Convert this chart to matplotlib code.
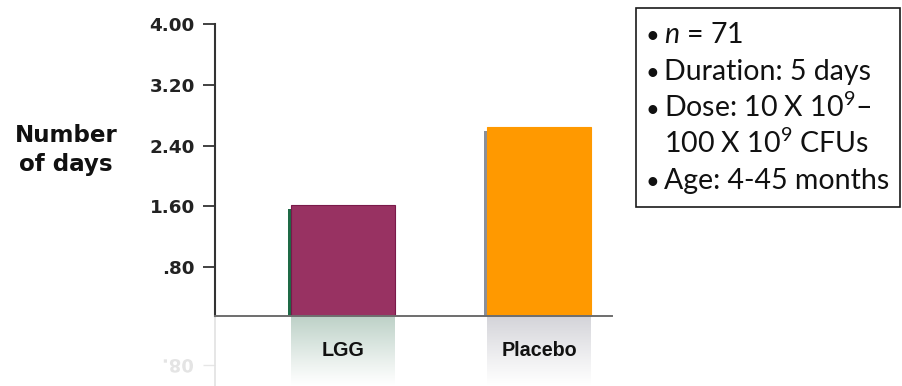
import numpy as np
import matplotlib
matplotlib.use("Agg")
import matplotlib.pyplot as plt
from matplotlib import patheffects
from matplotlib.patches import Rectangle, PathPatch
from matplotlib.textpath import TextPath
from matplotlib.font_manager import FontProperties
from matplotlib.transforms import Affine2D, IdentityTransform

# ---- data -------------------------------------------------------------
categories = ["LGG", "Placebo"]
days = [1.61, 2.64]
ytick_values = [0.80, 1.60, 2.40, 3.20, 4.00]
ytick_labels = [".80", "1.60", "2.40", "3.20", "4.00"]
box_lines = [r"$n$ = 71", "Duration: 5 days", r"Dose: 10 X 10$^{9}$–",
             r"100 X 10$^{9}$ CFUs", "Age: 4-45 months"]
box_bullets = [True, True, True, False, True]

# ---- styling ----------------------------------------------------------
bar_colors = ["#983262", "#FF9900"]
bar_edges = ["#7a1a4a", "#FF9900"]
shadow_colors = ["#1e6a46", "#8a8f99"]
reflect_colors = [(0.74, 0.82, 0.78), (0.83, 0.83, 0.85)]

plt.rcParams["mathtext.fontset"] = "custom"
plt.rcParams["mathtext.rm"] = "Lato"
plt.rcParams["mathtext.it"] = "Lato:italic"

W, H = 902, 386
fig = plt.figure(figsize=(W / 100, H / 100), dpi=100)

# pixel layout
ax_l, ax_r, ax_t, ax_b = 215, 612, 24.3, 316
px_per_unit = 60.6 / 0.8
ymax = 4.0
ymin = ymax - (ax_b - ax_t) / px_per_unit

x = np.arange(len(categories))
centers_px = [343, 539]
unit_px = centers_px[1] - centers_px[0]
xlo = -(centers_px[0] - ax_l) / unit_px
xhi = 1 + (ax_r - centers_px[1]) / unit_px
bar_w = 104 / unit_px

# ---- reflection strip under the baseline -------------------------------
refl_h = H - ax_b
axr = fig.add_axes([ax_l / W, 0, (ax_r - ax_l) / W, refl_h / H])
r_top = ymin + refl_h / px_per_unit
axr.patch.set_alpha(0)
for s in ["top", "right", "bottom"]:
    axr.spines[s].set_visible(False)
axr.spines["left"].set_color("#e2e2e2")
axr.spines["left"].set_linewidth(1.2)

# mirrored bars, drawn as thin slices that fade out away from the baseline
n = 70
for xi, v, c in zip(x, days, reflect_colors):
    depth = min(v, r_top) - ymin
    edges = ymin + np.linspace(0, depth, n + 1)
    alphas = np.linspace(1.0, 0.0, n) ** 1.1
    for y0, y1, a in zip(edges[:-1], edges[1:], alphas):
        axr.bar(xi, y1 - y0, bottom=y0, width=bar_w, color=c, alpha=a,
                linewidth=0, zorder=1)
axr.set_xlim(xlo, xhi)
axr.set_ylim(r_top, ymin)
axr.set_xticks([])
axr.set_yticks([0.8])
axr.set_yticklabels([""])
axr.tick_params(axis="y", length=9, width=1.0, color="#e6e6e6")

# mirrored faint tick label in the reflection
fp = FontProperties(family="DejaVu Sans", weight="bold")
tp = TextPath((0, 0), ".80", size=18, prop=fp)
ext = tp.get_extents()
y_mirror_base = ax_b + (0.8 - ymin) * px_per_unit - 6
tr = Affine2D().scale(1, -1).translate(193 - ext.x1, H - y_mirror_base)
fig.add_artist(PathPatch(tp, transform=tr + IdentityTransform(),
                         facecolor="#e4e4e4", edgecolor="none"))

# ---- main axes ---------------------------------------------------------
ax = fig.add_axes([ax_l / W, 1 - ax_b / H, (ax_r - ax_l) / W, (ax_b - ax_t) / H])
ax.set_zorder(3)
ax.patch.set_alpha(0)
ax.set_xlim(xlo, xhi)
ax.set_ylim(ymin, ymax)

for xi, v, fc, ec, sc in zip(x, days, bar_colors, bar_edges, shadow_colors):
    b = ax.bar(xi, v - ymin, width=bar_w, bottom=ymin, color=fc,
               edgecolor=ec, linewidth=0.8, zorder=2)
    b[0].set_path_effects([
        patheffects.SimplePatchShadow(offset=(-2.2, -2.5), shadow_rgbFace=sc,
                                      alpha=1.0),
        patheffects.Normal()])

for s in ["top", "right"]:
    ax.spines[s].set_visible(False)
ax.spines["left"].set_color("#333333")
ax.spines["left"].set_linewidth(1.5)
ax.spines["bottom"].set_color("#6e6e6e")
ax.spines["bottom"].set_linewidth(1.4)

ax.set_yticks(ytick_values)
ax.set_yticklabels(ytick_labels, fontfamily="DejaVu Sans", fontweight="bold",
                   fontsize=13.2, color="#222222")
ax.tick_params(axis="y", length=9, width=1.3, color="#333333", pad=5.5)

ax.set_xticks(x)
ax.set_xticklabels(categories, fontfamily="Liberation Sans", fontweight="bold",
                   fontsize=14.2, color="#111111")
ax.tick_params(axis="x", length=0, pad=18)

fig.text(66 / W, 1 - 150 / H, "Number\nof days", ha="center", va="center",
         fontfamily="DejaVu Sans", fontweight="bold", fontsize=16.6,
         linespacing=1.3, color="#111111")

# ---- study details box -------------------------------------------------
bx0, bx1, by0, by1 = 636, 900, 8, 207
fig.add_artist(Rectangle((bx0 / W, 1 - by1 / H), (bx1 - bx0) / W,
                         (by1 - by0) / H, transform=fig.transFigure,
                         facecolor="white", edgecolor="#1a1a1a", linewidth=1.2))
baselines = [43, 80, 117, 153, 189]
for txt, bullet, yb in zip(box_lines, box_bullets, baselines):
    if bullet:
        fig.text(645 / W, 1 - yb / H, "•", ha="left", va="baseline",
                 fontfamily="Lato", fontsize=17, color="#111111")
    fig.text(664 / W, 1 - yb / H, txt, ha="left", va="baseline",
             fontfamily="Lato", fontsize=20.5, color="#111111")

fig.savefig("out.png", dpi=100)
